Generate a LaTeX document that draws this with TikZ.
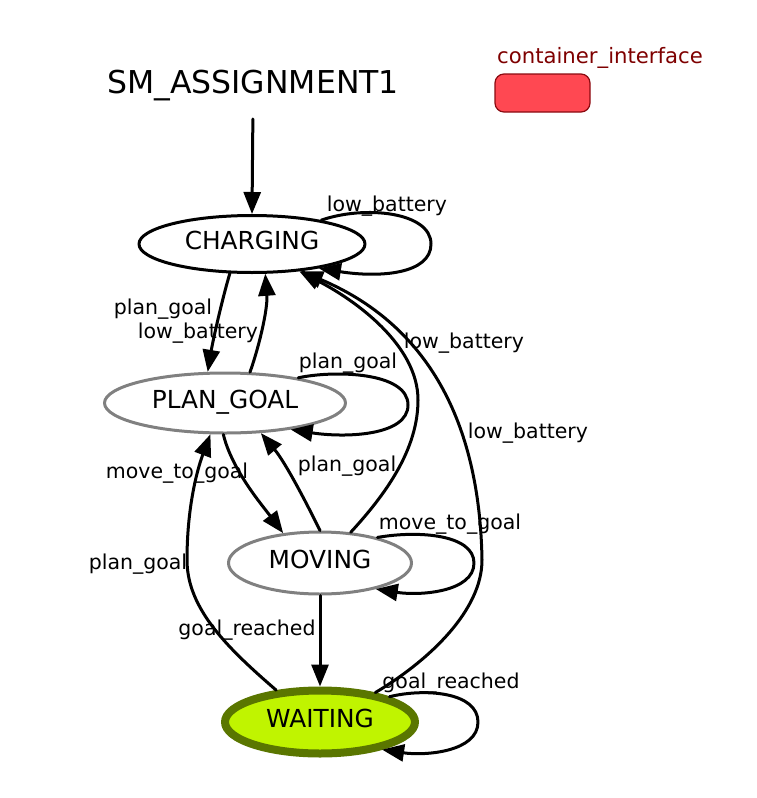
\documentclass[tikz,border=0pt]{standalone}
\usepackage{fontspec}
\setmainfont{DejaVu Sans}
\usetikzlibrary{arrows.meta,shapes.geometric}
\definecolor{greyline}{HTML}{808080}
\definecolor{waitfill}{HTML}{C0F400}
\definecolor{waitline}{HTML}{5A7600}
\definecolor{boxfill}{HTML}{FF4852}
\definecolor{boxline}{HTML}{8A0A10}
\definecolor{boxtext}{HTML}{7E0000}
\tikzset{
  state/.style={ellipse,draw,line width=3pt,inner sep=0pt,text height=18pt,text depth=8pt,font=\fontsize{24.8}{28}\selectfont},
  edge/.style={line width=3pt,-{Triangle[length=22pt,width=17pt]}},
  elabel/.style={inner sep=1pt,font=\fontsize{20.5}{24}\selectfont}
}
\begin{document}
\begin{tikzpicture}[x=1pt,y=-1pt,line cap=round,line join=round]
  \useasboundingbox (0,0) rectangle (757,798);
  \node[font=\fontsize{31.5}{36}\selectfont] (sm) at (253,86) {SM\_ASSIGNMENT1};
  \node[text=boxtext,font=\fontsize{21.2}{24}\selectfont] (iflabel) at (600,58) {container\_interface};
  \node[draw=boxline,fill=boxfill,rounded corners=9pt,line width=1.2pt,minimum width=95pt,minimum height=38pt] (ifbox) at (542.5,93) {};
  \node[state,minimum width=226pt,minimum height=57pt] (charging) at (252,244) {CHARGING};
  \node[state,draw=greyline,minimum width=241pt,minimum height=60pt] (plan) at (225,403) {PLAN\_GOAL};
  \node[state,draw=greyline,minimum width=183pt,minimum height=62pt] (moving) at (320,563) {MOVING};
  \node[state,draw=waitline,fill=waitfill,line width=8pt,minimum width=190pt,minimum height=63pt] (waiting) at (320,722) {WAITING};
  \draw[edge,shorten <=14pt] (sm.south) -- (charging.north);
  \draw[edge] (charging.19) .. controls (365,205) and (431,212) .. (431,244) .. controls (431,274) and (380,278) .. (charging.-20);
  \draw[edge] (charging.-127) .. controls (222,300) and (213,340) .. (plan.119);
  \draw[edge] (plan.51) .. controls (258,350) and (268,310) .. (charging.-66);
  \draw[edge] (plan.19) .. controls (335,370) and (408,372) .. (408,405) .. controls (408,436) and (345,438) .. (plan.-22);
  \draw[edge] (plan.-93) .. controls (232,470) and (262,505) .. (moving.141);
  \draw[edge] (moving.90) .. controls (305,500) and (285,462) .. (plan.-40);
  \draw[edge] (moving.45) .. controls (385,495) and (418,450) .. (418,400) .. controls (418,345) and (355,300) .. (charging.-30);
  \draw[edge] (moving.24) .. controls (420,530) and (474,535) .. (474,563) .. controls (474,592) and (420,596) .. (moving.-25);
  \draw[edge] (moving.south) -- (waiting.north);
  \draw[edge] (waiting.144) .. controls (230,650) and (187,610) .. (187,560) .. controls (187,500) and (200,462) .. (plan.-115);
  \draw[edge] (waiting.28) .. controls (430,660) and (482,610) .. (482,560) .. controls (480,440) and (440,330) .. (charging.-29);
  \draw[edge] (waiting.20) .. controls (425,688) and (478,692) .. (478,722) .. controls (478,752) and (425,756) .. (waiting.-24);
  \node[elabel] (lbcharging) at (387,206) {low\_battery};
  \node[elabel] (pgcharging) at (163,309) {plan\_goal};
  \node[elabel] (lbplan) at (198,333) {low\_battery};
  \node[elabel] (pgplan) at (348,363) {plan\_goal};
  \node[elabel] (lbmoving) at (464,343) {low\_battery};
  \node[elabel] (lbwaiting) at (528,433) {low\_battery};
  \node[elabel] (mgplan) at (177,473) {move\_to\_goal};
  \node[elabel] (pgmoving) at (347,466) {plan\_goal};
  \node[elabel] (mgmoving) at (450,524) {move\_to\_goal};
  \node[elabel] (pgwaiting) at (138,564) {plan\_goal};
  \node[elabel] (grmoving) at (247,630) {goal\_reached};
  \node[elabel] (grwaiting) at (451,683) {goal\_reached};
\end{tikzpicture}
\end{document}
